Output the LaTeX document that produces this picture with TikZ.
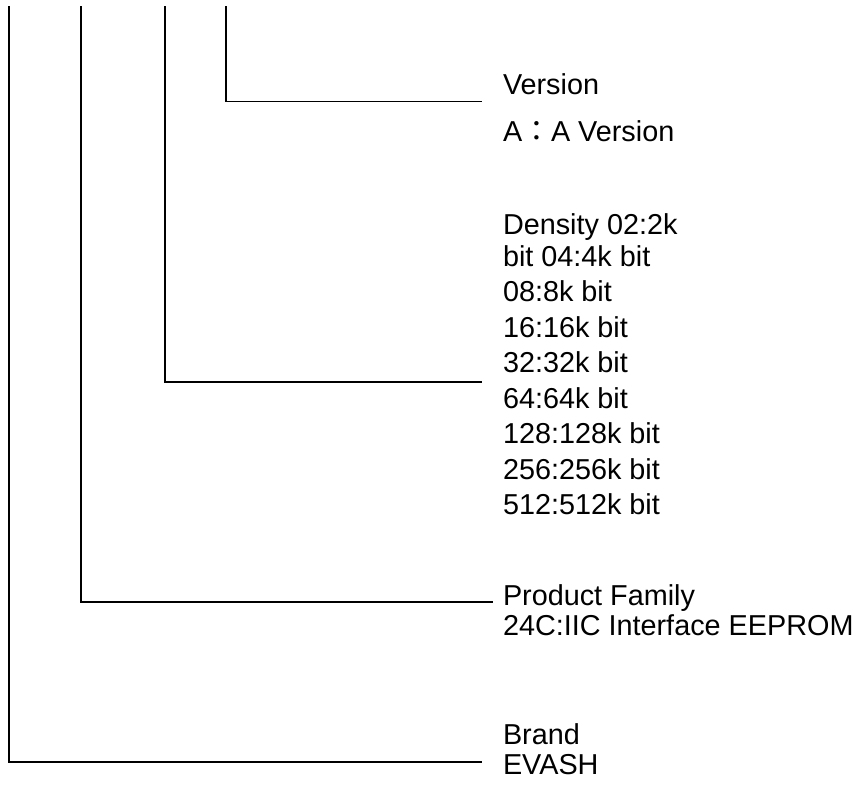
\documentclass[tikz,border=0pt]{standalone}
\usepackage{fontspec}
\setmainfont{Liberation Sans}
\newfontfamily\cjk{Noto Sans CJK JP}
\begin{document}
\begin{tikzpicture}[x=1pt,y=1pt,
  lbl/.style={anchor=base west,inner sep=0pt,outer sep=0pt,font=\fontsize{28.8}{30}\selectfont},
  conn/.style={line width=1.5pt,line cap=butt,line join=miter}]
\useasboundingbox (0,0) rectangle (862,-785);
% text
\node[lbl] (ver1) at (503,-94.5) {Version};
\node[lbl] (ver2) at (503,-141) {A{\cjk ：}A Version};
\node[lbl] (den0) at (503,-234.5) {Density 02:2k};
\node[lbl] (den1) at (503,-266) {bit 04:4k bit};
\node[lbl] (den2) at (503,-301.5) {08:8k bit};
\node[lbl] (den3) at (503,-337) {16:16k bit};
\node[lbl] (den4) at (503,-372.5) {32:32k bit};
\node[lbl] (den5) at (503,-408) {64:64k bit};
\node[lbl] (den6) at (503,-443.5) {128:128k bit};
\node[lbl] (den7) at (503,-479) {256:256k bit};
\node[lbl] (den8) at (503,-514.5) {512:512k bit};
\node[lbl] (fam1) at (503,-605) {Product Family};
\node[lbl] (fam2) at (503,-635) {24C:IIC Interface EEPROM};
\node[lbl] (brd1) at (503,-744.5) {Brand};
\node[lbl] (brd2) at (503,-774) {EVASH};
% connector ends
\coordinate (tv) at (226,-6);
\coordinate (td) at (165,-6);
\coordinate (tf) at (81,-6);
\coordinate (tb) at (9,-6);
\coordinate (ev) at (482,-101.5);
\coordinate (ed) at (482,-382);
\coordinate (ef) at (493,-602);
\coordinate (eb) at (482,-762);
\draw[conn] (tv) |- (ev);
\draw[conn] (td) |- (ed);
\draw[conn] (tf) |- (ef);
\draw[conn] (tb) |- (eb);
\end{tikzpicture}
\end{document}
